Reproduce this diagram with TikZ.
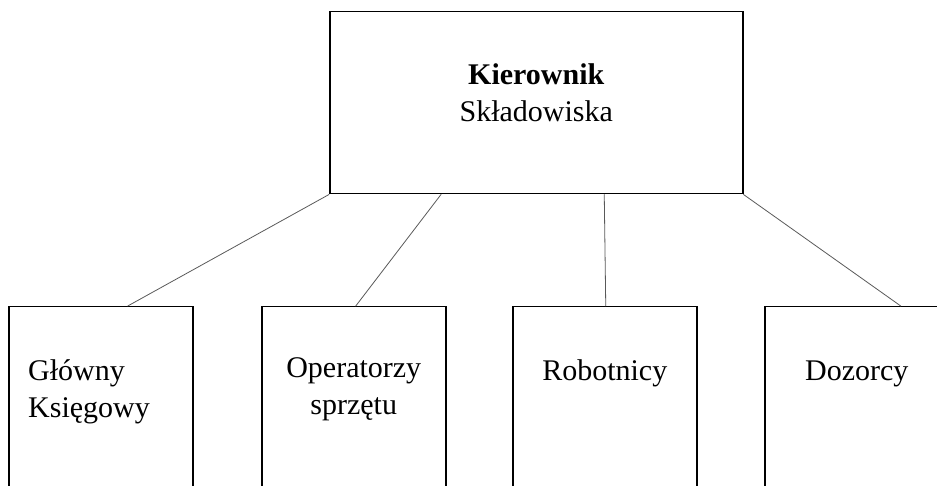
\documentclass[tikz,border=0pt]{standalone}
\usepackage{fontspec}
\setmainfont{Liberation Serif}
\usetikzlibrary{positioning}

\begin{document}
\begin{tikzpicture}[x=1pt,y=-1pt,line cap=round,
  box/.style={draw,line width=1.5pt,minimum width=184pt,minimum height=200pt,inner sep=0pt},
  lbl/.style={font=\fontsize{30}{37}\selectfont,inner sep=0pt,align=center},
  link/.style={draw=black!65,line width=0.8pt}]
  % canvas (the lower boxes run off the bottom edge)
  \useasboundingbox (0,0) rectangle (937,486);
  \clip (0,0) rectangle (937,486);

  % head of the chart
  \node[box,minimum width=413pt,minimum height=182pt,anchor=north west] (head) at (329,11) {};
  \node[lbl,anchor=base] (headtxt) at ([yshift=-111pt]head.north) {\textbf{Kierownik}\\Składowiska};

  % lower row
  \foreach \n/\x in {acc/8,ops/261,wrk/512,grd/764}
    \node[box,anchor=north west] (\n) at (\x,306) {};

  % labels (base = last line)
  \node[lbl,anchor=base west,align=left] (acctxt) at ([shift={(20pt,-111pt)}]acc.north west) {Główny\\Księgowy};
  \node[lbl,anchor=base] (opstxt) at ([yshift=-108pt]ops.north) {Operatorzy\\sprzętu};
  \node[lbl,anchor=base] (wrktxt) at ([yshift=-74pt]wrk.north) {Robotnicy};
  \node[lbl,anchor=base] (grdtxt) at ([yshift=-74pt]grd.north) {Dozorcy};

  % links
  \draw[link] (head.south west) -- ([xshift=27pt]acc.north);
  \draw[link] ([xshift=112pt]head.south west) -- ([xshift=2pt]ops.north);
  \draw[link] ([xshift=68pt]head.south) -- ([xshift=1pt]wrk.north);
  \draw[link] (head.south east) -- ([xshift=44pt]grd.north);
\end{tikzpicture}
\end{document}
